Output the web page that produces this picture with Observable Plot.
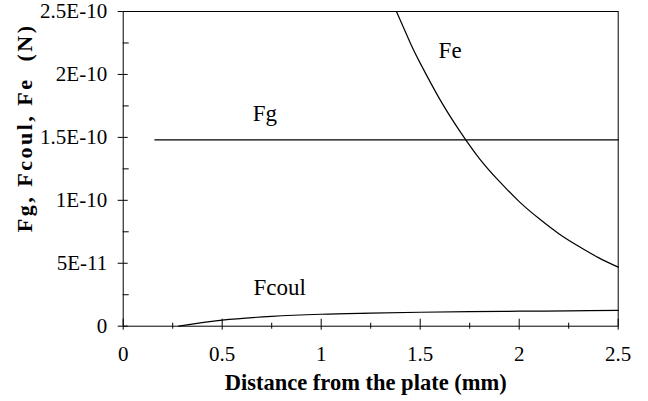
<!DOCTYPE html>
<html>
<head>
<meta charset="utf-8">
<script src="https://cdn.jsdelivr.net/npm/d3@7"></script>
<script src="https://cdn.jsdelivr.net/npm/@observablehq/plot@0.6"></script>
<style>
  html, body { margin: 0; padding: 0; background: #fff; }
  svg text, svg tspan { font-family: "Liberation Serif", "Times New Roman", Times, serif !important; }
</style>
</head>
<body>
<div id="chart"></div>
<script>
// Tick values and labels
const xTicks = [0, 0.5, 1, 1.5, 2, 2.5];
const xTickLabels = ["0", "0.5", "1", "1.5", "2", "2.5"];
const xMinor = [0.25, 0.75, 1.25, 1.75, 2.25];
const yTicks = [0, 5e-11, 1e-10, 1.5e-10, 2e-10, 2.5e-10];
const yTickLabels = ["0", "5E-11", "1E-10", "1.5E-10", "2E-10", "2.5E-10"];
const yMinor = [2.5e-11, 7.5e-11, 1.25e-10, 1.75e-10, 2.25e-10];

// Series (distance in mm, force in N)
const fgX = [0.16, 2.5];
const fgY = [1.48e-10, 1.48e-10];
const feX = [1.38, 1.45, 1.5, 1.6, 1.7, 1.8, 1.9, 2.0, 2.1, 2.2, 2.3, 2.4, 2.5];
const feY = [2.5e-10, 2.25e-10, 2.09e-10, 1.80e-10, 1.55e-10, 1.33e-10, 1.15e-10, 0.99e-10, 0.855e-10, 0.735e-10, 0.635e-10, 0.545e-10, 0.469e-10];
const fcoulX = [0.28, 0.5, 0.75, 1.0, 1.25, 1.5, 1.75, 2.0, 2.25, 2.5];
const fcoulY = [0, 0.048e-10, 0.078e-10, 0.095e-10, 0.104e-10, 0.111e-10, 0.116e-10, 0.119e-10, 0.122e-10, 0.125e-10];

// Curve labels
const labelText = ["Fe", "Fg", "Fcoul"];
const labelX = [1.593, 0.654, 0.658];
const labelY = [2.186e-10, 1.689e-10, 0.304e-10];

const xTitle = "Distance from the plate (mm)";
const yTitle = "Fg, Fcoul, Fe  (N)";

const toRows = (xs, ys) => xs.map((x, i) => ({x, y: ys[i]}));
const fg = toRows(fgX, fgY);
const fe = toRows(feX, feY);
const fcoul = toRows(fcoulX, fcoulY);
const labels = labelText.map((t, i) => ({t, x: labelX[i], y: labelY[i]}));

const W = 648, H = 401;
const mL = 122.7, mR = 30.3, mT = 11, mB = 75.3;
const plotW = W - mL - mR, plotH = H - mT - mB;
const serif = "Liberation Serif, Times New Roman, Times, serif";

const chart = Plot.plot({
  width: W,
  height: H,
  marginLeft: mL,
  marginRight: mR,
  marginTop: mT,
  marginBottom: mB,
  x: {domain: [0, 2.5]},
  y: {domain: [0, 2.5e-10]},
  style: {fontFamily: serif, fontSize: "21px", color: "#000", background: "#fff", overflow: "visible"},
  marks: [
    Plot.frame({stroke: "#000", strokeWidth: 1}),
    // x axis ticks
    Plot.axisX(xTicks, {tickFormat: d => xTickLabels[xTicks.indexOf(d)], tickSize: 4, tickPadding: 16, label: null, fontSize: 21, fontFamily: serif, stroke: "#000", fill: "#000"}),
    Plot.tickX(xTicks, {x: d => d, insetTop: plotH - 7, stroke: "#000"}),
    Plot.tickX(xMinor, {x: d => d, insetTop: plotH - 6, dy: 3, stroke: "#000"}),
    // y axis ticks
    Plot.axisY(yTicks, {tickFormat: d => yTickLabels[yTicks.indexOf(d)], tickSize: 5, tickPadding: 11, label: null, fontSize: 21, fontFamily: serif, stroke: "#000", fill: "#000"}),
    Plot.tickY(yTicks, {y: d => d, insetRight: plotW - 5, stroke: "#000"}),
    Plot.tickY(yMinor, {y: d => d, insetRight: plotW - 6, stroke: "#000"}),
    // series
    Plot.line(fg, {x: "x", y: "y", stroke: "#000", strokeWidth: 1.2}),
    Plot.line(fe, {x: "x", y: "y", stroke: "#000", strokeWidth: 1.2, curve: "natural"}),
    Plot.line(fcoul, {x: "x", y: "y", stroke: "#000", strokeWidth: 1.2, curve: "catmull-rom"}),
    // labels
    Plot.text(labels, {x: "x", y: "y", text: "t", textAnchor: "start", lineAnchor: "middle", fontSize: 23, fontFamily: serif, fill: "#000"}),
    // axis titles
    Plot.text([xTitle], {frameAnchor: "bottom", textAnchor: "middle", dx: -5, dy: 57, lineAnchor: "middle", fontSize: 22.5, fontWeight: "bold", fontFamily: serif, fill: "#000"}),
    Plot.text([yTitle], {frameAnchor: "left", textAnchor: "middle", rotate: -90, dx: -98, dy: -41, lineAnchor: "middle", fontSize: 22, fontWeight: "bold", fontFamily: serif, fill: "#000"})
  ]
});

chart.querySelectorAll("text").forEach(t => {
  t.style.fontFamily = serif;
  t.style.fontVariant = "normal";
  if (t.textContent === yTitle) {
    t.setAttribute("letter-spacing", "2.5px");
    t.style.whiteSpace = "pre";
  }
});
document.getElementById("chart").appendChild(chart);
</script>
</body>
</html>
